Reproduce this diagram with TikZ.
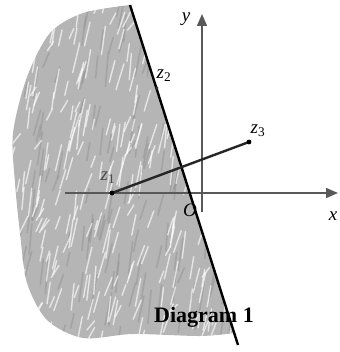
\documentclass[tikz,border=0pt]{standalone}
\usepackage{fontspec}
\setmainfont{Liberation Serif}
\usetikzlibrary{arrows.meta}
\begin{document}
\begin{tikzpicture}[x=1pt,y=-1pt,
  axis/.style={gray!70!black,line width=1.4pt,-{Triangle[length=12pt,width=10pt]}},
  lbl/.style={font=\fontsize{19}{19}\selectfont\itshape,inner sep=0pt},
  seg/.style={black!85,line width=2.4pt},
  bound/.style={black,line width=2.4pt}]
\useasboundingbox (0,0) rectangle (339,352);
\def\regionpath{(130,5) -- (234,333) -- plot[smooth] coordinates {(234,333) (200,336) (133,334) (83,338) (47,320) (27,283) (20,233) (15,183) (13,133) (27,77) (50,33) (83,13) (130,5)} -- cycle}
\begin{scope}
  \clip \regionpath;
  \fill[gray!58] \regionpath;
  \pgfmathsetseed{7}
  \foreach \i in {1,...,170} {
    \draw[gray!85,opacity=0.5,line width=1.6pt,line cap=round] (rnd*240,rnd*350) -- ++(2+rnd*5,-12-rnd*22);
  }
  \foreach \i in {1,...,320} {
    \draw[white,opacity=0.65,line width=1.4pt,line cap=round] (rnd*240,rnd*350) -- ++(2+rnd*6,-8-rnd*22);
  }
\end{scope}
% axes
\coordinate (xs) at (65,193);
\coordinate (xe) at (338,193);
\coordinate (ys) at (202,212);
\coordinate (ye) at (202,14);
\draw[axis] (xs) -- (xe);
\draw[axis] (ys) -- (ye);
% boundary line
\coordinate (ltop) at (130,5);
\coordinate (lbot) at (238,345);
\draw[bound] (ltop) -- (lbot);
% points
\coordinate (z1) at (112,193);
\coordinate (z3) at (249,142);
\coordinate (z2) at (157,88);
\draw[seg] (z1) -- (z3);
\fill[black] (z1) circle (2.4pt);
\fill[black] (z3) circle (2.4pt);
\fill[black!80] (z2) circle (1.6pt);
% labels
\node[lbl] (lx) at (333,216) {x};
\node[lbl] (ly) at (186,19) {y};
\node[lbl] (lz1) at (108,178) {\color{black!70}z\textsubscript{\upshape 1}};
\node[lbl] (lz2) at (164,76) {z\textsubscript{\upshape 2}};
\node[lbl] (lz3) at (258,131) {z\textsubscript{\upshape 3}};
\node[lbl] (lO) at (190,210) {O};
\node[font=\fontsize{22}{22}\selectfont\bfseries,inner sep=0pt,anchor=base] (cap) at (204,322) {Diagram 1};
\end{tikzpicture}
\end{document}
